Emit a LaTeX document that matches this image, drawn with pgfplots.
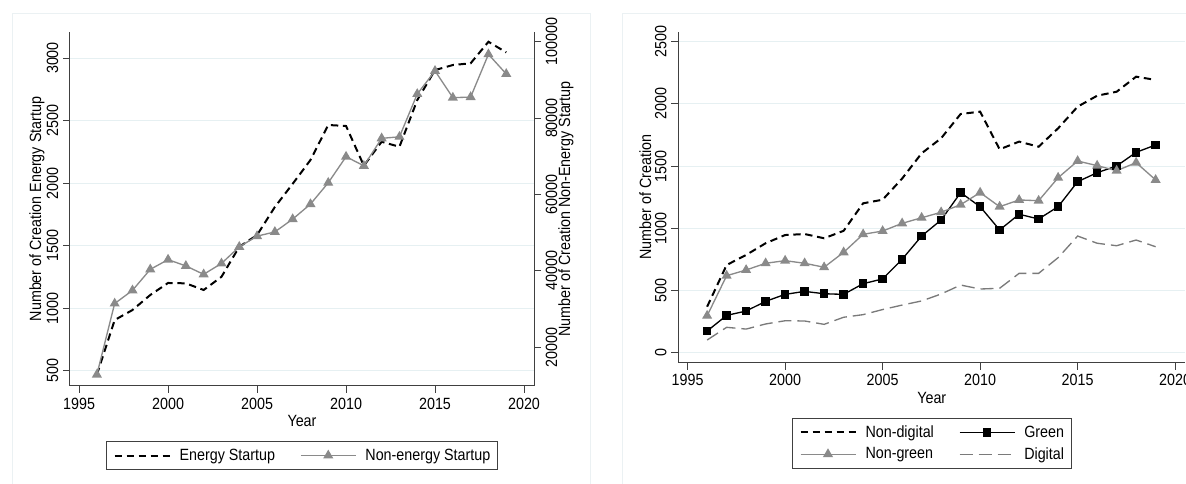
\documentclass[border=0pt]{standalone}
\usepackage{fontspec}
\setmainfont[FakeStretch=0.88]{Liberation Sans}
\usepackage{pgfplots}
\usepackage{pgfplotstable}
\pgfplotsset{compat=1.18}
\definecolor{gridc}{HTML}{E6F0F2}
\definecolor{framec}{HTML}{EBF1F3}
\definecolor{axc}{HTML}{404040}
\definecolor{grayline}{HTML}{8A8A8A}
\definecolor{graydash}{HTML}{7A7A7A}
\newcommand{\tf}{\fontsize{12.2pt}{14pt}\selectfont}

\pgfplotstableread{
year energy nonenergy
1996 470 12850
1997 907 31450
1998 987 34900
1999 1107 40400
2000 1203 42950
2001 1200 41300
2002 1147 39100
2003 1252 41950
2004 1492 46300
2005 1586 49100
2006 1810 50200
2007 1995 53550
2008 2185 57480
2009 2465 63070
2010 2457 69900
2011 2140 67500
2012 2331 74700
2013 2291 75100
2014 2664 86300
2015 2904 92350
2016 2944 85350
2017 2958 85500
2018 3130 96700
2019 3045 91560
}\tabA

\pgfplotstableread{
year nondigital green nongreen digital
1996 370 174 297 102
1997 705 300 619 204
1998 786 335 665 190
1999 880 413 719 231
2000 946 469 740 257
2001 954 493 719 255
2002 920 474 687 228
2003 980 469 807 285
2004 1201 555 952 306
2005 1230 593 978 347
2006 1400 751 1040 383
2007 1603 938 1085 416
2008 1724 1067 1129 472
2009 1919 1287 1190 544
2010 1938 1174 1287 512
2011 1635 987 1174 518
2012 1697 1113 1228 638
2013 1656 1075 1222 638
2014 1804 1174 1407 764
2015 1978 1375 1541 938
2016 2066 1447 1504 880
2017 2098 1501 1463 860
2018 2219 1611 1528 906
2019 2193 1670 1389 852
}\tabB

\pgfplotsset{
  base/.style={
    scale only axis,
    /pgf/number format/fixed,
    /pgf/number format/1000 sep={},
    /pgf/number format/assume math mode=true,
    scaled y ticks=false, scaled x ticks=false,
    tick label style={font=\tf},
    axis line style={axc, line width=0.75pt},
    tick style={axc, line width=0.75pt},
    tick align=outside,
    major tick length=5.25pt,
    minor tick num=0,
    grid style={gridc, line width=0.75pt},
  },
  leg/.style={
    legend cell align=left,
    legend style={at={(axis description cs:0.5,0)}, anchor=north, yshift=-41.25pt,
      draw=axc, line width=0.75pt, fill=white, font=\tf,
      inner xsep=5.5pt, inner ysep=3.5pt, row sep=2pt,
      nodes={inner xsep=0pt, inner ysep=2pt},
      /tikz/every odd column/.append style={column sep=6.75pt},
      /tikz/every even column/.append style={column sep=18.75pt}},
    legend image code/.code={\draw[mark repeat=2,mark phase=2,##1] plot coordinates {(0pt,0pt) (20.625pt,0pt) (41.25pt,0pt)};},
  },
  sdash/.style={black, line width=1.5pt, dash pattern=on 5.5pt off 3.5pt, no markers},
  stri/.style={grayline, line width=1pt, solid, mark=triangle*, mark size=3.4pt, mark options={solid, fill=grayline, draw=grayline}},
  ssq/.style={black, line width=1pt, solid, mark=square*, mark size=2.7pt, mark options={solid, fill=black}},
  slong/.style={graydash, line width=1pt, dash pattern=on 9.75pt off 4.5pt, no markers},
}

\begin{document}
\begin{tikzpicture}
% faint graph-region frames
\draw[framec, line width=0.75pt] (9pt,-5pt) -- (9pt,352.5pt) -- (442.5pt,352.5pt) -- (442.5pt,-5pt);
\draw[framec, line width=0.75pt] (466.5pt,-5pt) -- (466.5pt,352.5pt) -- (900pt,352.5pt);

% ---------- left panel ----------
\begin{axis}[base,
  at={(52.5pt,73.5pt)}, anchor=south west,
  width=348pt, height=265.5pt,
  xmin=1994.49, xmax=2020.56, ymin=380, ymax=3208,
  axis x line*=bottom, axis y line*=left,
  xtick={1995,2000,...,2020},
  ytick={500,1000,...,3000},
  ymajorgrids,
  yticklabel style={rotate=90, anchor=south},
  xlabel={Year},
  every axis x label/.style={at={(axis description cs:0.5,0)}, anchor=base, yshift=-30.75pt, font=\tf},
  ylabel={Number of Creation Energy Startup},
  every axis y label/.style={at={(axis description cs:0,0.5)}, xshift=-24.75pt, rotate=90, anchor=center, font=\tf},
]
\addplot[sdash] table[x=year, y=energy] {\tabA};
\end{axis}
\begin{axis}[base, leg,
  at={(52.5pt,73.5pt)}, anchor=south west,
  width=348pt, height=265.5pt,
  xmin=1994.49, xmax=2020.56, ymin=9870, ymax=102540,
  axis x line=none, axis y line*=right,
  ytick={20000,40000,60000,80000,100000},
  yticklabel style={rotate=90, anchor=north},
  ylabel={Number of Creation Non-Energy Startup},
  every axis y label/.style={at={(axis description cs:1,0.5)}, xshift=24pt, rotate=90, anchor=center, font=\tf},
  legend columns=2,
]
\addlegendimage{sdash}
\addlegendentry{Energy Startup}
\addplot[stri] table[x=year, y=nonenergy] {\tabA};
\addlegendentry{Non-energy Startup}
\end{axis}

% ---------- right panel ----------
\begin{axis}[base, leg,
  at={(508.7pt,91pt)}, anchor=south west,
  width=380.25pt, height=248.25pt,
  xmin=1994.52, xmax=2020.52, ymin=-80, ymax=2581,
  axis x line*=bottom, axis y line*=left,
  xtick={1995,2000,...,2020},
  ytick={0,500,...,2500},
  ymajorgrids,
  yticklabel style={rotate=90, anchor=south},
  xlabel={Year},
  every axis x label/.style={at={(axis description cs:0.5,0)}, anchor=base, yshift=-31pt, font=\tf},
  ylabel={Number of Creation},
  every axis y label/.style={at={(axis description cs:0,0.5)}, xshift=-24.75pt, rotate=90, anchor=center, font=\tf},
  legend columns=2,
]
\addplot[sdash] table[x=year, y=nondigital] {\tabB};
\addlegendentry{Non-digital}
\addplot[ssq] table[x=year, y=green] {\tabB};
\addlegendentry{Green}
\addplot[stri] table[x=year, y=nongreen] {\tabB};
\addlegendentry{Non-green}
\addplot[slong] table[x=year, y=digital] {\tabB};
\addlegendentry{Digital}
\end{axis}

\pgfresetboundingbox
\path[use as bounding box] (0,0) rectangle (889.5pt,363pt);
\end{tikzpicture}
\end{document}
